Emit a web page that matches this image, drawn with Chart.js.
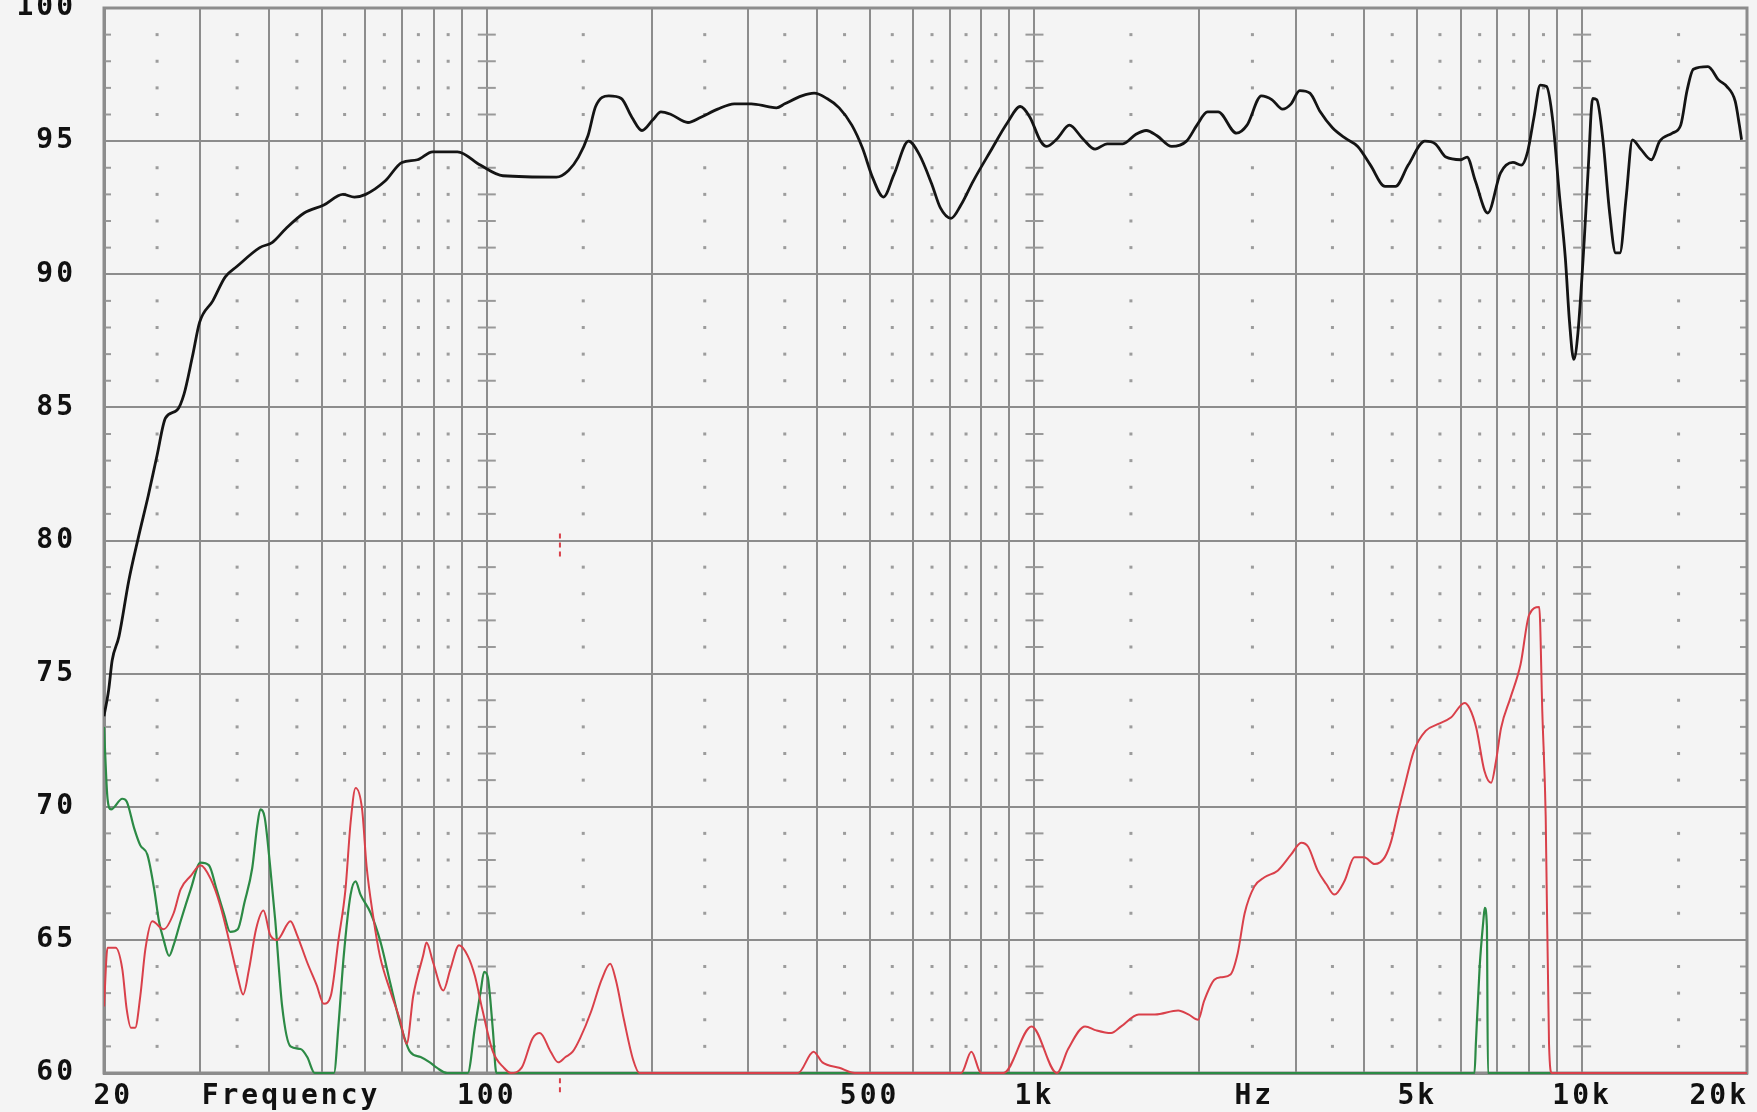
<!DOCTYPE html>
<html>
<head>
<meta charset="utf-8">
<title>Frequency response</title>
<script src="https://cdn.jsdelivr.net/npm/chart.js@4.4.1/dist/chart.umd.min.js"></script>
<style>
  html, body { margin: 0; padding: 0; background: #f4f4f4; }
  #wrap { width: 1757px; height: 1112px; }
</style>
</head>
<body>
<div id="wrap"><canvas id="fr" width="1757" height="1112"></canvas></div>
<script>
// on-axis response (black)
const splFreq = [20, 20.4, 20.7, 21.3, 22.2, 23.1, 24.1, 25.0, 25.9, 27.2, 28.0, 29.0, 29.9, 31.6, 33.3, 35.0, 38.5, 40.6, 42.9, 46.4,
  50.4, 54.6, 57.3, 60.1, 65.2, 70, 74.7, 79.6, 88.4, 97.3, 107, 134, 141, 147, 153, 158, 167, 176, 184, 192,
  201, 208, 217, 233, 246, 264, 283, 304, 326, 338, 350, 376, 396, 418, 440, 464, 485, 507, 530, 554,
  589, 616, 649, 673, 704, 734, 773, 830, 893, 942, 981, 1026, 1053, 1101, 1158, 1224, 1290, 1358, 1450, 1530,
  1600, 1674, 1781, 1895, 1980, 2070, 2164, 2338, 2444, 2596, 2716, 2837, 2942, 3050, 3184, 3325, 3500, 3700, 3893, 4107,
  4366, 4564, 4813, 5163, 5394, 5640, 6003, 6164, 6383, 6725, 7093, 7476, 7742, 7952, 8167, 8386, 8610, 8841, 9077, 9319,
  9484, 9654, 9825, 10090, 10268, 10451, 10636, 10920, 11214, 11515, 11719, 12034, 12355, 12795, 13380, 13857, 14612, 15136, 15544, 15962,
  16975, 17750, 18380, 19030, 19370, 19550];
const splDb = [73.4, 74.4, 75.5, 76.4, 78.5, 80.1, 81.7, 83.2, 84.6, 84.9, 85.5, 86.9, 88.2, 89.0, 89.9, 90.3, 91.0, 91.2, 91.7, 92.3,
  92.6, 93.0, 92.9, 93.0, 93.5, 94.2, 94.3, 94.6, 94.6, 94.1, 93.7, 93.65, 93.9, 94.4, 95.2, 96.3, 96.7, 96.6, 95.9, 95.4,
  95.8, 96.1, 96.0, 95.7, 95.9, 96.2, 96.4, 96.4, 96.3, 96.25, 96.4, 96.7, 96.8, 96.6, 96.25, 95.6, 94.75, 93.6, 92.9, 93.75,
  95.0, 94.5, 93.4, 92.5, 92.1, 92.6, 93.5, 94.6, 95.7, 96.3, 95.9, 95.0, 94.8, 95.1, 95.6, 95.1, 94.7, 94.9, 94.9, 95.25,
  95.4, 95.2, 94.8, 95.0, 95.6, 96.1, 96.1, 95.3, 95.6, 96.7, 96.55, 96.2, 96.4, 96.9, 96.8, 96.1, 95.5, 95.1, 94.8, 94.1,
  93.3, 93.3, 94.1, 95.0, 94.9, 94.4, 94.3, 94.4, 93.5, 92.3, 93.8, 94.2, 94.1, 94.6, 95.9, 97.1, 97.05, 95.75, 93.1, 90.6,
  88.2, 86.8, 87.8, 91.3, 94.1, 96.6, 96.55, 95.0, 92.4, 90.8, 90.8, 92.9, 95.05, 94.7, 94.3, 95.0, 95.3, 95.6, 96.9, 97.7,
  97.8, 97.3, 97.05, 96.5, 95.6, 95.05];

// 2nd harmonic (red)
const h2Freq = [20, 20.3, 21.0, 21.6, 22.0, 22.4, 22.8, 23.3, 23.8, 24.5, 25.7, 26.8, 27.6, 28.8, 30.0, 31.3, 32.6, 34.0, 35.1, 35.9,
  36.8, 37.9, 39.1, 40.2, 41.4, 43.8, 45.0, 47.0, 48.9, 50.4, 51.9, 53.6, 55.2, 56.4, 57.6, 59.2, 60.3, 62.0, 63.8, 66.6,
  69.4, 71.4, 73.4, 76.5, 77.6, 79.8, 83.3, 85.8, 89.0, 92.3, 95.1, 98.1, 102.6, 107.4, 110.6, 115.8, 121.2, 125, 130.8, 135,
  139.2, 143.5, 148, 155, 162, 168, 172, 178, 185, 190, 370, 395, 410, 440, 470, 735, 767, 799, 878, 988,
  1099, 1152, 1237, 1297, 1380, 1440, 1550, 1660, 1830, 1910, 1990, 2040, 2130, 2200, 2280, 2350, 2420, 2520, 2630, 2780,
  2940, 3070, 3160, 3290, 3410, 3530, 3680, 3840, 4000, 4180, 4360, 4480, 4600, 4730, 4930, 5180, 5450, 5760, 6100, 6230,
  6410, 6630, 6820, 6960, 7110, 7400, 7720, 8000, 8350, 8460, 8580, 8700, 8800, 20000];
const h2Db = [62.5, 64.7, 64.7, 63.9, 62.4, 61.7, 61.7, 62.9, 64.65, 65.7, 65.4, 66.0, 66.9, 67.4, 67.8, 67.3, 66.3, 64.8, 63.6, 62.95,
  63.9, 65.4, 66.1, 65.2, 65.0, 65.7, 65.2, 64.15, 63.3, 62.6, 62.9, 65.0, 66.9, 69.4, 70.7, 69.9, 67.8, 65.9, 64.4, 63.1,
  62.0, 61.1, 62.9, 64.4, 64.9, 64.15, 63.1, 63.9, 64.8, 64.4, 63.65, 62.4, 60.8, 60.2, 60.0, 60.2, 61.3, 61.5, 60.8, 60.4,
  60.6, 60.8, 61.3, 62.3, 63.5, 64.1, 63.5, 62.0, 60.5, 60, 60, 60.8, 60.4, 60.2, 60, 60, 60.8, 60, 60, 61.75,
  60, 60.9, 61.75, 61.6, 61.5, 61.75, 62.2, 62.2, 62.35, 62.2, 62.0, 62.7, 63.5, 63.6, 63.7, 64.5, 66.0, 67.0, 67.35, 67.6,
  68.2, 68.65, 68.5, 67.6, 67.1, 66.7, 67.2, 68.1, 68.1, 67.85, 68.1, 68.7, 69.7, 70.7, 72.1, 72.85, 73.1, 73.35, 73.9, 73.7,
  72.95, 71.35, 70.9, 71.7, 72.95, 74.1, 75.35, 77.2, 77.5, 73.5, 69.6, 61.1, 60, 60];

// 3rd harmonic (green)
const h3Freq = [20, 20.3, 20.6, 21.6, 22.0, 22.7, 23.3, 24.0, 24.7, 25.2, 25.7, 26.3, 26.8, 27.6, 28.8, 30.0, 31.1, 32.1, 33.1, 34.0,
  35.1, 36.1, 37.3, 38.1, 38.6, 39.3, 40.2, 41.1, 42.3, 43.8, 45.7, 47.0, 48.5, 52.6, 53.6, 54.8, 56.4, 57.6, 58.8, 61.4,
  64.0, 66.6, 69.4, 72.4, 75.7, 78.7, 81.0, 84.6, 92.3, 95.1, 97.5, 98.9, 100.4, 102.6, 104.1, 6360, 6400, 6500, 6600, 6640,
  6700, 6730, 20000];
const h3Db = [73.0, 70.3, 69.9, 70.3, 70.2, 69.2, 68.55, 68.2, 66.9, 65.7, 65.0, 64.4, 64.8, 65.7, 66.9, 67.9, 67.8, 66.9, 66.0, 65.3,
  65.4, 66.4, 67.7, 69.3, 69.9, 69.6, 67.8, 65.7, 62.5, 61.0, 60.9, 60.6, 60.0, 60.0, 61.8, 64.4, 66.7, 67.2, 66.7, 66.0,
  64.9, 63.4, 61.9, 60.8, 60.6, 60.4, 60.2, 60.0, 60, 61.7, 63.1, 63.8, 63.6, 61.6, 60, 60, 61.2, 64, 65.7, 66.2,
  65.5, 60, 60];

// red cursor marks near 136 Hz
const markFreq = [136, 136, 136, 136, 136];
const markDb = [79.4, 80.4, null, 59.8, 59.2];

// x grid lines and x labels (labels sit where the printout puts them)
const xGridValues = [20, 30, 40, 50, 60, 70, 80, 90, 100, 200, 300, 400, 500, 600, 700, 800, 900,
  1000, 2000, 3000, 4000, 5000, 6000, 7000, 8000, 9000, 10000, 20000];
const xLabelValues = [20.8, 43.9, 100, 500, 1000, 2520, 5000, 10000, 17800];
const xLabelText = ['20', 'Frequency', '100', '500', '1k', 'Hz', '5k', '10k', '20k'];
const yTickValues = [60, 65, 70, 75, 80, 85, 90, 95, 100];

// dotted sub-grid
const dotFreqs = [25, 35, 45, 55, 65, 75, 85, 150, 250, 350, 450, 550, 650, 750, 850,
  1500, 2500, 3500, 4500, 5500, 6500, 7500, 8500, 15000];
const decadeLines = [100, 1000, 10000];

const GRID = '#8c8c8c';
const PAPER = '#f4f4f4';

const toPoints = (f, d) => f.map((x, i) => ({ x: x, y: d[i] }));
const xTicks = Array.from(new Set(xGridValues.concat(xLabelValues))).sort((a, b) => a - b);

const paperPlugin = {
  id: 'paper',
  beforeLayout(chart) {
    chart.ctx.letterSpacing = '3px';
  },
  beforeDraw(chart) {
    const ctx = chart.ctx;
    ctx.letterSpacing = '3px';
    ctx.save();
    ctx.fillStyle = PAPER;
    ctx.fillRect(0, 0, chart.width, chart.height);
    ctx.restore();
  },
  beforeDatasetsDraw(chart) {
    const { ctx, chartArea: a, scales: { x, y } } = chart;
    ctx.save();
    for (let db = 61; db < 100; db++) {
      if (db % 5 === 0) continue;
      const py = y.getPixelForValue(db);
      // dots at every 1 dB between the 5 dB lines
      ctx.fillStyle = '#9c9c9c';
      dotFreqs.forEach(f => {
        const px = x.getPixelForValue(f);
        ctx.fillRect(px - 1.5, py - 1.5, 3, 3);
      });
      // dashes on the decade lines and the frame
      ctx.fillStyle = '#999';
      decadeLines.forEach(f => {
        const px = x.getPixelForValue(f);
        ctx.fillRect(px - 9, py - 1, 18, 2);
      });
      ctx.fillRect(a.left, py - 1, 7, 2);
      ctx.fillRect(a.right - 7, py - 1, 7, 2);
    }
    ctx.strokeStyle = GRID;
    ctx.lineWidth = 3;
    ctx.strokeRect(a.left, a.top, a.right - a.left, a.bottom - a.top);
    ctx.restore();
  }
};

const tickFont = { family: '"DejaVu Sans Mono", "Liberation Mono", monospace', size: 28, weight: 'bold' };
const baseClip = { left: 0, top: 0, right: 0, bottom: 3 };

new Chart(document.getElementById('fr'), {
  type: 'line',
  data: {
    datasets: [
      { label: 'H2', data: toPoints(h2Freq, h2Db), borderColor: '#d9404a', borderWidth: 2, clip: baseClip },
      { label: 'H3', data: toPoints(h3Freq, h3Db), borderColor: '#2c8a45', borderWidth: 2.2, clip: baseClip },
      { label: 'marker', data: toPoints(markFreq, markDb), borderColor: '#d9404a', borderWidth: 2,
        borderDash: [5, 4], spanGaps: false, clip: false, cubicInterpolationMode: 'default' },
      { label: 'SPL', data: toPoints(splFreq, splDb), borderColor: '#141414', borderWidth: 2.8 }
    ]
  },
  options: {
    responsive: false,
    devicePixelRatio: 1,
    animation: false,
    layout: { padding: { top: 8, right: 10, bottom: 0, left: 0 } },
    elements: { point: { radius: 0 }, line: { cubicInterpolationMode: 'monotone' } },
    plugins: { legend: { display: false }, tooltip: { enabled: false } },
    scales: {
      x: {
        type: 'logarithmic',
        min: 20,
        max: 20000,
        afterBuildTicks: s => { s.ticks = xTicks.map(v => ({ value: v })); },
        afterFit: s => { s.height = 39; s.paddingLeft = 0; s.paddingRight = 0; },
        grid: {
          color: c => (c.tick && !xGridValues.includes(c.tick.value)) ? 'rgba(0,0,0,0)' : GRID,
          lineWidth: 2,
          drawTicks: false
        },
        border: { color: GRID, width: 3 },
        ticks: {
          autoSkip: false,
          maxRotation: 0,
          minRotation: 0,
          padding: 7,
          color: '#111',
          font: tickFont,
          callback: v => {
            const i = xLabelValues.indexOf(v);
            return i < 0 ? '' : xLabelText[i];
          }
        }
      },
      y: {
        min: 60,
        max: 100,
        afterBuildTicks: s => { s.ticks = yTickValues.map(v => ({ value: v })); },
        afterFit: s => { s.width = 104; s.paddingTop = 0; s.paddingBottom = 0; },
        grid: { color: GRID, lineWidth: 2, drawTicks: false },
        border: { color: GRID, width: 3 },
        ticks: { padding: 28, color: '#111', font: tickFont, callback: v => String(v) }
      }
    }
  },
  plugins: [paperPlugin]
});
</script>
</body>
</html>
